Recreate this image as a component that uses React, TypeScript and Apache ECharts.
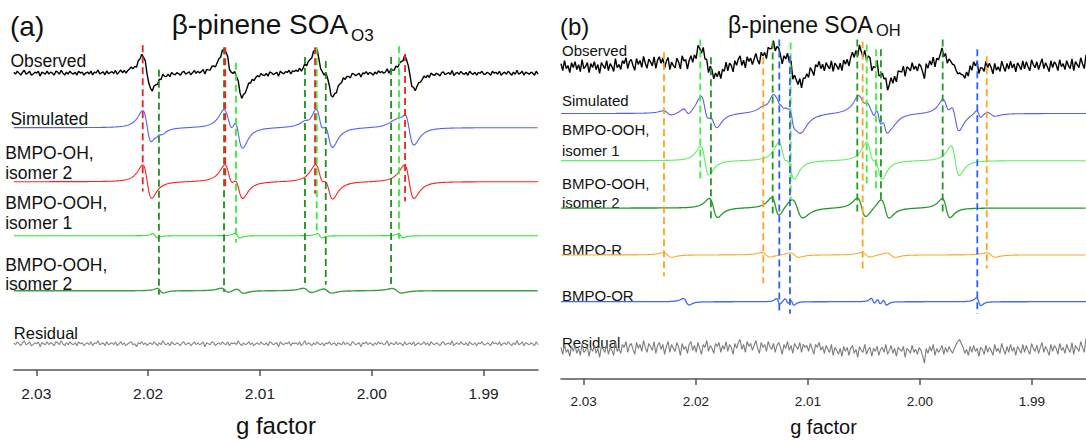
import React, { useEffect, useRef } from "react";
import * as echarts from "echarts";

// ---------------- data ----------------
const gTicks = [2.03, 2.02, 2.01, 2.0, 1.99];
const gRangeA = [1.98513, 2.03201];
const gRangeB = [1.98518, 2.03203];

// Panel (a) — line centres (g), amplitudes, half-widths (g)
const ohIso2G = [2.02008, 2.01278, 2.01189, 2.00467, 2.00384, 1.99665];
const ohIso2Amp = [17, 13.2, 13.2, 13.2, 13.2, 17];
const ohIso2W = [0.0007, 0.0007, 0.0007, 0.0007, 0.0007, 0.00075];

const oohIso1AG = [2.01936, 2.012, 2.00465, 1.9974];
const oohIso1AAmp = [2.2, 2.4, 2.2, 2.2];
const oohIso1AW = [0.00036, 0.00036, 0.00036, 0.00036];

const oohIso2AG = [2.01891, 2.01312, 2.01178, 2.00574, 2.00395, 1.99776];
const oohIso2AAmp = [2.3, 2.3, 2.3, 2.3, 2.3, 2.3];
const oohIso2AW = [0.00047, 0.0006, 0.0006, 0.00067, 0.00067, 0.00075];

const obsAG = [2.02008, 2.01281, 2.01194, 2.00467, 2.00384, 1.99662];
const obsAAmp = [17.5, 18.2, 18.2, 18, 18, 16.5];
const obsAW = [0.0007, 0.0007, 0.0007, 0.0007, 0.0007, 0.0007];

const residualA = [
  1,-1,2,0,-2,1,3,-1,0,2,-2,-1,1,0,2,-3,1,0,-1,2,
  -1,1,0,-2,2,1,-1,3,0,-2,1,-1,2,0,-1,1,-2,2,0,1,
  -2,0,1,-1,2,-2,1,0,3,-1,0,1,-2,2,-1,0,1,-1,2,-2,
  0,2,-1,1,-2,0,1,2,-1,0,-3,1,0,2,-1,1,-2,0,1,-1,
  2,0,-2,1,-1,3,0,-1,1,-2,2,0,-1,1,0,-2,1,2,-1,0,
  1,-2,0,2,-1,1,-1,0,2,-3,1,0,-1,2,1,-2,0,1,-1,2,
  0,-1,2,-2,1,0,1,-1,3,0,-2,1,-1,0,2,-1,1,-2,0,1,
  -1,2,0,-1,1,-2,2,1,-1,0,1,-3,2,0,-1,1,0,2,-2,1,
  0,1,-1,2,-2,0,3,-1,1,0,-2,1,-1,2,0,-1,1,-2,1,0,
  2,-1,0,1,-2,1,0,-1,2,-1,1,0,-2,2,1,-1,0,1,-3,1,
  0,2,-1,1,0,-2,1,-1,2,0,1,-1,0,3,-2,1,0,-1,2,-1,
  1,0,-2,2,-1,0,1,-1,2,-2,0,1,-1,0,2,-1,1,-2,2,0,
  -1,1,0,-2,1,2,-1,0,1,-1,3,-2,0,1,-1,2,0,-1,1,-2,
  2,0,-1,1,-2,1,0,2,-1,-1,1,0,-2,2,0,1,-1,2,-2,0,
  1,-1,2,0,-2,1,-1,3,-1,0,2,-2,1,0,-1,1,0,-2,2,-1,
];

// Panel (b)
const oohIso1BG = [2.0192, 2.01227, 2.01153, 2.00444, 2.0037, 1.99685];
const oohIso1BAmp = [14.7, 14, 14, 14, 14, 15];
const oohIso1BW = [0.00064, 0.00064, 0.00064, 0.00064, 0.00064, 0.00064];

const oohIso2BG = [2.01842, 2.01289, 2.01093, 2.0052, 2.0031, 1.99766];
const oohIso2BAmp = [9.7, 9.7, 9.7, 9.7, 9.7, 9.7];
const oohIso2BW = [0.00065, 0.00059, 0.00085, 0.00067, 0.00064, 0.0006];

const bmpoRG = [2.02253, 2.01374, 2.0112, 2.00482, 2.00258, 1.99366];
const bmpoRAmp = [2.3, 2.3, 2.3, 2.3, 2.3, 2.3];
const bmpoRW = [0.00067, 0.00067, 0.00067, 0.00067, 0.00067, 0.00067];

const bmpoORG = [2.02086, 2.01264, 2.01189, 2.01139, 2.00419, 2.00366, 2.00312, 1.99475];
const bmpoORAmp = [3.3, 3, 3, 3, 3, 3, 3, 4];
const bmpoORW = [0.00044, 0.00027, 0.00027, 0.00027, 0.00027, 0.00027, 0.00027, 0.00033];

const residualB = [
  3,-4,6,-2,1,-6,4,-1,5,-3,2,-5,7,-2,0,4,-6,3,-1,5,
  -3,2,-7,4,1,-2,6,-4,3,0,-5,8,-1,2,-3,6,3,9,-2,5,
  7,1,-4,8,2,6,-1,10,3,-2,7,4,0,9,-3,5,8,1,6,-4,
  4,9,-2,6,2,-1,8,3,-5,7,1,4,-3,6,9,0,5,-2,8,2,
  -4,6,3,10,-1,5,2,-3,7,4,8,-2,5,1,9,-1,6,3,-4,7,
  2,8,11,1,6,-2,9,4,7,0,5,10,2,-3,8,3,6,-1,9,4,
  1,7,-2,5,8,3,-4,6,2,9,0,5,-3,7,4,1,8,-2,6,3,
  5,-1,7,2,-4,6,3,8,0,4,-3,5,1,-2,6,-5,3,0,-4,2,
  -6,4,-1,3,-5,2,5,-3,1,-7,4,0,-2,6,-4,1,3,-6,2,-1,
  4,-5,1,3,-2,6,-4,0,5,-3,2,-6,3,1,-1,4,-7,2,0,-3,
  5,-2,1,-4,3,0,-6,-13,2,-3,4,-1,6,-5,2,-2,1,5,-4,3,
  -2,4,0,-3,2,6,9,11,7,3,-3,1,-5,4,-2,5,-1,2,-6,3,
  1,-4,5,-2,3,0,-5,6,-1,2,-3,7,1,-4,4,-2,6,-1,3,-5,
  4,1,-3,6,-2,5,0,-4,7,2,-1,5,-3,3,8,-2,4,0,-5,6,
  -1,5,2,-4,7,0,3,-3,6,1,-2,8,-4,5,2,-1,9,3,-2,12,
];

// Dashed marker positions (g)
const markRedA = [2.02048, 2.0131, 2.00507, 1.99702];
const markDkGreenA = [2.01903, 2.01321, 2.00597, 2.00411, 1.99827];
const markLtGreenA = [2.01214, 2.00492, 1.99756];
const markOrangeB = [2.02284, 2.01398, 2.00511, 1.99404];
const markLtGreenB = [2.0196, 2.01154, 2.00475, 2.00392];
const markDkGreenB = [2.01865, 2.01314, 2.00559, 2.00348, 1.99797];
const markBlueB = [2.01255, 2.0116, 1.99488];

// ---------------- layout (pixels) ----------------
const FONT = "'Liberation Sans', Arial, Helvetica, sans-serif";
const LA = { left: 13.8, width: 524.2, axisY: 376.7 };
const LB = { left: 561, width: 525, axisY: 384 };
const baseA = { obs: 74.5, sim: 130, oh2: 185, ooh1: 240, ooh2: 296, res: 350 };
const baseB = { obs: 67.5, sim: 115, ooh1: 162.8, ooh2: 210.8, r: 258.3, or: 305.7, res: 355 };
const extRedA = [[46, 195], [48, 190], [48, 197], [55, 205]];
const extDkGreenA = [[71, 300], [48, 297], [58, 288], [62, 290], [58, 290]];
const extLtGreenA = [[64, 247], [48, 235], [47, 243]];
const extOrangeB = [[53, 280], [58, 287], [42, 272], [57, 272]];
const extLtGreenB = [[40, 182], [43, 202], [45, 188], [50, 192]];
const extDkGreenB = [[58, 222], [42, 218], [40, 215], [50, 205], [40, 217]];
const extBlueB = [[40, 318], [57, 318], [50, 318]];

// ---------------- helpers ----------------
const K = 0.649519;
function lineSum(g: number, cs: number[], amps: number[], ws: number[]) {
  let s = 0;
  for (let i = 0; i < cs.length; i++) {
    const u = (cs[i] - g) / ws[i];
    s += (-amps[i] * 2 * u) / ((1 + u * u) * (1 + u * u)) / K;
  }
  return s;
}
function grid(range: number[], n: number) {
  const [lo, hi] = range;
  return Array.from({ length: n }, (_, i) => hi - (i * (hi - lo)) / (n - 1));
}
type Comp = [number[], number[], number[]];

function App() {
  const ref = useRef<HTMLDivElement>(null);
  useEffect(() => {
    if (!ref.current) return;
    const chart = echarts.init(ref.current, undefined, { renderer: "svg" });

    const compOH2: Comp = [ohIso2G, ohIso2Amp, ohIso2W];
    const compA1: Comp = [oohIso1AG, oohIso1AAmp, oohIso1AW];
    const compA2: Comp = [oohIso2AG, oohIso2AAmp, oohIso2AW];
    const compB1: Comp = [oohIso1BG, oohIso1BAmp, oohIso1BW];
    const compB2: Comp = [oohIso2BG, oohIso2BAmp, oohIso2BW];
    const compR: Comp = [bmpoRG, bmpoRAmp, bmpoRW];
    const compOR: Comp = [bmpoORG, bmpoORAmp, bmpoORW];
    const ev = (c: Comp, g: number) => lineSum(g, c[0], c[1], c[2]);

    const gA = grid(gRangeA, 1200);
    const gB = grid(gRangeB, 1200);
    const gAn = grid(gRangeA, residualA.length);
    const gBn = grid(gRangeB, residualB.length);

    const simA = (g: number) => ev(compOH2, g) + ev(compA1, g) + ev(compA2, g);
    const simB = (g: number) => ev(compB1, g) + ev(compB2, g) + ev(compR, g) + ev(compOR, g);

    const series: any[] = [];
    const trace = (ax: number, pts: number[][], color: string, width = 1.1, z = 2) =>
      series.push({
        type: "line", xAxisIndex: ax, yAxisIndex: ax, data: pts, showSymbol: false, symbol: "none",
        lineStyle: { color, width }, itemStyle: { color }, z, silent: true,
      });

    // panel (a)
    trace(0, gAn.map((g, i) => [g, baseA.obs - (lineSum(g, obsAG, obsAAmp, obsAW) + residualA[i])]), "#000000", 1.4);
    trace(0, gA.map((g) => [g, baseA.sim - simA(g)]), "#5160ff");
    trace(0, gA.map((g) => [g, baseA.oh2 - ev(compOH2, g)]), "#ff1f1f");
    trace(0, gA.map((g) => [g, baseA.ooh1 - ev(compA1, g)]), "#2ee02e");
    trace(0, gA.map((g) => [g, baseA.ooh2 - ev(compA2, g)]), "#3d9e3d", 1.4);
    trace(0, gAn.map((g, i) => [g, baseA.res - residualA[i]]), "#858585", 1.1);

    // panel (b)
    trace(1, gBn.map((g, i) => [g, baseB.obs - (simB(g) + residualB[i])]), "#000000", 1.4);
    trace(1, gB.map((g) => [g, baseB.sim - simB(g)]), "#5a5cf2");
    trace(1, gB.map((g) => [g, baseB.ooh1 - ev(compB1, g)]), "#5cf05c");
    trace(1, gB.map((g) => [g, baseB.ooh2 - ev(compB2, g)]), "#25982a", 1.3);
    trace(1, gB.map((g) => [g, baseB.r - ev(compR, g)]), "#ffa91a");
    trace(1, gB.map((g) => [g, baseB.or - ev(compOR, g)]), "#3a6cf5", 1.3);
    trace(1, gBn.map((g, i) => [g, baseB.res - residualB[i]]), "#7c7c7c", 1.1);

    const dashes = (ax: number, gs: number[], ext: number[][], color: string) =>
      gs.forEach((g, i) =>
        series.push({
          type: "line", xAxisIndex: ax, yAxisIndex: ax, data: [[g, ext[i][0]], [g, ext[i][1]]],
          showSymbol: false, symbol: "none", lineStyle: { color, width: 1.8, type: [7, 4] }, z: 5, silent: true,
        })
      );
    dashes(0, markDkGreenA, extDkGreenA, "#1f8f22");
    dashes(0, markLtGreenA, extLtGreenA, "#33ee33");
    dashes(0, markRedA, extRedA, "#f02020");
    dashes(1, markOrangeB, extOrangeB, "#ffa31a");
    dashes(1, markDkGreenB, extDkGreenB, "#229a25");
    dashes(1, markLtGreenB, extLtGreenB, "#3cf03c");
    dashes(1, markBlueB, extBlueB, "#2f62f2");

    const xAx = (idx: number, range: number[], labelSize: number, nameSize: number, nameGap: number) => ({
      gridIndex: idx, type: "value", min: range[0], max: range[1], inverse: true,
      splitLine: { show: false },
      axisLine: { show: true, onZero: false, lineStyle: { color: "#555", width: 1.5 } },
      axisTick: { show: true, length: 6, inside: false, customValues: gTicks, lineStyle: { color: "#555", width: 1.5 } },
      axisLabel: {
        customValues: gTicks, formatter: (v: number) => v.toFixed(2), fontSize: labelSize,
        color: "#222", margin: 15, fontFamily: FONT,
      },
      name: "g factor", nameLocation: "middle", nameGap,
      nameTextStyle: { fontSize: nameSize, color: "#111", fontFamily: FONT },
    });

    const txt = (x: number, y: number, text: string, size: number) => ({
      type: "text", x, y, silent: true,
      style: {
        text, fontSize: size, fontFamily: FONT, fill: "#111",
        align: "left", verticalAlign: "middle", textAlign: "left", textVerticalAlign: "middle",
      },
    });

    const fa = 17.5, fb = 15;
    const graphic = [
      txt(10, 26, "(a)", 28),
      txt(171.7, 24.7, "β-pinene SOA", 28),
      txt(351, 35, "O3", 17),
      txt(10.4, 61, "Observed", fa),
      txt(10.4, 119, "Simulated", fa),
      txt(5.2, 153, "BMPO-OH,", fa),
      txt(5.2, 173, "isomer 2", fa),
      txt(5.2, 203, "BMPO-OOH,", fa),
      txt(5.2, 223, "isomer 1", fa),
      txt(5.2, 265, "BMPO-OOH,", fa),
      txt(5.2, 284, "isomer 2", fa),
      txt(13.8, 333, "Residual", 16.5),
      txt(560, 26, "(b)", 24),
      txt(728, 25, "β-pinene SOA", 23),
      txt(876, 29.5, "OH", 16.5),
      txt(562, 50, "Observed", fb),
      txt(562, 100, "Simulated", fb),
      txt(562, 129, "BMPO-OOH,", fb),
      txt(562, 150, "isomer 1", fb),
      txt(562, 183, "BMPO-OOH,", fb),
      txt(562, 202, "isomer 2", fb),
      txt(562, 249, "BMPO-R", fb),
      txt(562, 295, "BMPO-OR", fb),
      txt(562, 342, "Residual", fb),
    ];

    chart.setOption({
      animation: false,
      backgroundColor: "#ffffff",
      textStyle: { fontFamily: FONT },
      grid: [
        { left: LA.left, top: 0, width: LA.width, height: LA.axisY },
        { left: LB.left, top: 0, width: LB.width, height: LB.axisY },
      ],
      xAxis: [xAx(0, gRangeA, 15.5, 24, 43), xAx(1, gRangeB, 13.5, 20, 38)],
      yAxis: [
        { gridIndex: 0, type: "value", min: 0, max: LA.axisY, inverse: true, show: false },
        { gridIndex: 1, type: "value", min: 0, max: LB.axisY, inverse: true, show: false },
      ],
      series,
      graphic,
    });
    return () => chart.dispose();
  }, []);
  return (
    <div
      ref={ref}
      style={{ position: "fixed", left: 0, top: 0, width: 1086, height: 442, background: "#fff" }}
    />
  );
}

export default App;
